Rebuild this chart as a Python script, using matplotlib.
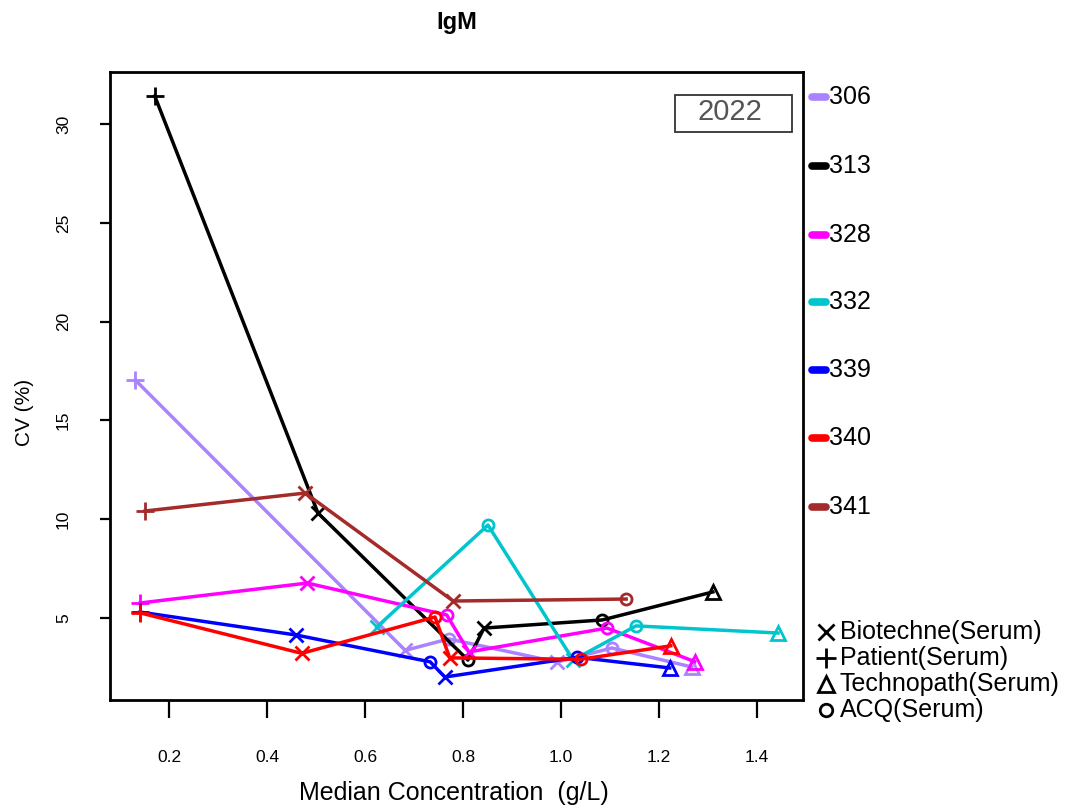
import matplotlib
matplotlib.use("Agg")
import matplotlib.pyplot as plt
from matplotlib.lines import Line2D
from matplotlib.patches import Rectangle

plt.rcParams["font.family"] = ["Liberation Sans", "DejaVu Sans"]

# lab codes and their line colours
labs = ["306", "313", "328", "332", "339", "340", "341"]
lab_colors = ["#AB82FF", "#000000", "#FF00FF", "#00C5CD", "#0000FF", "#FF0000", "#A52A2A"]

# material -> marker
materials = ["Biotechne(Serum)", "Patient(Serum)", "Technopath(Serum)", "ACQ(Serum)"]
material_markers = ["x", "+", "^", "o"]

# median concentration (g/L), CV (%) and material marker per lab
conc_306 = [0.131, 0.682, 0.771, 0.992, 1.104, 1.267]
cv_306 = [17.05, 3.35, 3.93, 2.76, 3.47, 2.51]
mk_306 = ["+", "x", "o", "x", "o", "^"]

conc_313 = [0.171, 0.504, 0.810, 0.843, 1.084, 1.310]
cv_313 = [31.43, 10.31, 2.86, 4.48, 4.89, 6.31]
mk_313 = ["+", "x", "o", "x", "o", "^"]

conc_328 = [0.141, 0.482, 0.767, 0.812, 1.094, 1.273]
cv_328 = [5.75, 6.76, 5.14, 3.27, 4.48, 2.78]
mk_328 = ["+", "x", "o", "x", "o", "^"]

conc_332 = [0.624, 0.851, 1.025, 1.153, 1.443]
cv_332 = [4.53, 9.70, 2.86, 4.59, 4.23]
mk_332 = ["x", "o", "x", "o", "^"]

conc_339 = [0.141, 0.459, 0.733, 0.763, 1.033, 1.222]
cv_339 = [5.29, 4.13, 2.77, 2.00, 3.00, 2.46]
mk_339 = ["+", "x", "o", "x", "o", "^"]

conc_340 = [0.141, 0.471, 0.743, 0.773, 1.040, 1.224]
cv_340 = [5.25, 3.20, 5.04, 2.97, 2.90, 3.58]
mk_340 = ["+", "x", "o", "x", "o", "^"]

conc_341 = [0.151, 0.478, 0.780, 1.133]
cv_341 = [10.41, 11.32, 5.85, 5.95]
mk_341 = ["+", "x", "x", "o"]

series = [
    (conc_306, cv_306, mk_306),
    (conc_313, cv_313, mk_313),
    (conc_328, cv_328, mk_328),
    (conc_332, cv_332, mk_332),
    (conc_339, cv_339, mk_339),
    (conc_340, cv_340, mk_340),
    (conc_341, cv_341, mk_341),
]

xticks = [0.2, 0.4, 0.6, 0.8, 1.0, 1.2, 1.4]
yticks = [5, 10, 15, 20, 25, 30]

W, H = 1067, 809
fig = plt.figure(figsize=(W / 100, H / 100), dpi=100)
ax = fig.add_axes([110 / W, 1 - 700 / H, (803 - 110) / W, (700 - 72) / H])

msize = {"x": 10, "+": 13, "^": 10, "o": 8}

# draw last lab first so the earlier ones sit on top
for i in reversed(range(len(labs))):
    xs, ys, mks = series[i]
    col = lab_colors[i]
    ax.plot(xs, ys, color=col, lw=2.5, zorder=2 + i * 0.1)
    for x, y, m in zip(xs, ys, mks):
        ax.plot([x], [y], marker=m, ms=msize[m], mec=col, mfc="none",
                mew=2.0, ls="none", zorder=2 + i * 0.1)

ax.set_xlim(0.0796, 1.494)
ax.set_ylim(0.836, 32.65)
ax.set_xticks(xticks)
ax.set_xticklabels([f"{t:.1f}" for t in xticks])
ax.set_yticks(yticks)
ax.set_yticklabels([str(t) for t in yticks], rotation=90, va="center")

for s in ax.spines.values():
    s.set_linewidth(2.0)
ax.tick_params(axis="x", direction="out", length=13, width=1.6, pad=23, labelsize=12.5)
ax.tick_params(axis="y", direction="out", length=7, width=1.6, pad=21, labelsize=12.5)

fig.text(457 / W, 1 - 22 / H, "IgM", ha="center", va="center",
         fontsize=17, fontweight="bold")
fig.text(454 / W, 1 - 793 / H, "Median Concentration  (g/L)", ha="center",
         va="center", fontsize=18)
fig.text(25 / W, 1 - 412 / H, "CV (%)", ha="center", va="center",
         rotation=90, fontsize=15)

# year box
fig.add_artist(Rectangle((675 / W, 1 - 132 / H), (792 - 675) / W, (132 - 95) / H,
                         transform=fig.transFigure, fc="white", ec="#333333", lw=1.3,
                         zorder=5))
fig.text(730 / W, 1 - 112 / H, "2022", ha="center", va="center", fontsize=21,
         color="#555555", zorder=6)

# lab colour key on the right
key_y = [97, 166, 235, 302, 370, 438, 507]
for lab, col, ky in zip(labs, lab_colors, key_y):
    fig.add_artist(Line2D([812 / W, 826 / W], [1 - ky / H, 1 - ky / H],
                          color=col, lw=5.5, solid_capstyle="round"))
    fig.text(829 / W, 1 - ky / H, lab, ha="left", va="center", fontsize=18)

# material marker key
mat_y = [632, 658, 684, 710]
for name, m, my in zip(materials, material_markers, mat_y):
    fig.add_artist(Line2D([826 / W], [1 - my / H], marker=m, ms=msize[m] + 1,
                          mec="black", mfc="none", mew=2.0, ls="none"))
    fig.text(840 / W, 1 - my / H, name, ha="left", va="center", fontsize=18)

fig.savefig("out.png", dpi=100)
